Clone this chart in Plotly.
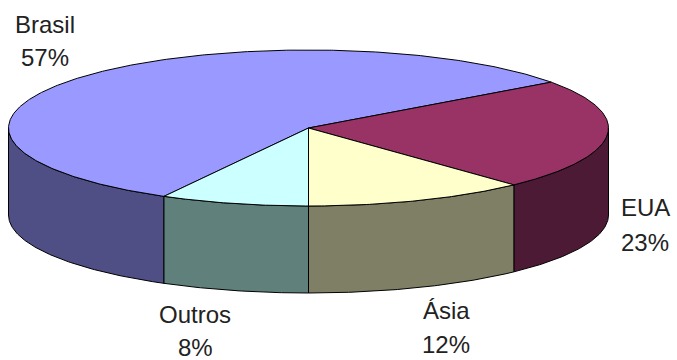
import numpy as np
import plotly.graph_objects as go

# Market share by region
regions = ["Brasil", "EUA", "Ásia", "Outros"]
shares = [57, 23, 12, 8]
top_colors = ["#9999FF", "#993366", "#FFFFCC", "#CCFFFF"]
side_colors = ["#4F4F86", "#4D1A35", "#7F7F66", "#5F807B"]

# Label placement (name line, value line)
label_x = [45, 645, 446, 195]
label_name_y = [24, 207, 310, 314]
label_value_y = [57, 242, 344, 347]

W, H = 677, 360
CX, CY = 308.5, 128.0      # centre of the top face
RX, RY = 300.0, 78.0       # radii of the top ellipse
DEPTH = 87.0               # thickness of the pie
START = 208.8              # angle (deg, clockwise from 12 o'clock) where the first slice begins


def pt(theta_deg, dy=0.0):
    t = np.radians(theta_deg)
    return CX + RX * np.sin(t), CY - RY * np.cos(t) + dy


def arc(a0, a1, dy=0.0, n=None):
    if n is None:
        n = max(int(abs(a1 - a0) * 2), 2)
    th = np.linspace(a0, a1, n)
    xs, ys = pt(th, dy)
    return list(xs), list(ys)


total = float(sum(shares))
bounds = []
a = START
for v in shares:
    b = a + v / total * 360.0
    bounds.append((a, b))
    a = b

fig = go.Figure()
edge = dict(color="black", width=1)

# Outer wall: only the front half (90..270 deg) is visible
for (a0, b0), col in zip(bounds, side_colors):
    for k in (-360, 0, 360):
        lo = max(a0 + k, 90.0)
        hi = min(b0 + k, 270.0)
        if hi - lo <= 0:
            continue
        xt, yt = arc(lo, hi)
        xb, yb = arc(hi, lo, DEPTH)
        xs = xt + xb + [xt[0]]
        ys = yt + yb + [yt[0]]
        fig.add_trace(go.Scatter(x=xs, y=ys, mode="lines", fill="toself",
                                 fillcolor=col, line=edge, hoverinfo="skip",
                                 showlegend=False))

# Top faces
for (a0, b0), col in zip(bounds, top_colors):
    xa, ya = arc(a0, b0)
    xs = [CX] + xa + [CX]
    ys = [CY] + ya + [CY]
    fig.add_trace(go.Scatter(x=xs, y=ys, mode="lines", fill="toself",
                             fillcolor=col, line=edge, hoverinfo="skip",
                             showlegend=False))

# Labels
font = dict(family="Liberation Sans, Arial, sans-serif", size=24, color="#222222")
for name, v, lx, ny, vy in zip(regions, shares, label_x, label_name_y, label_value_y):
    fig.add_annotation(x=lx, y=ny, text=name, showarrow=False, font=font,
                       xanchor="center", yanchor="middle")
    fig.add_annotation(x=lx, y=vy, text=f"{v}%", showarrow=False, font=font,
                       xanchor="center", yanchor="middle")

fig.update_layout(
    width=W, height=H,
    margin=dict(l=0, r=0, t=0, b=0),
    paper_bgcolor="white", plot_bgcolor="white",
    xaxis=dict(range=[0, W], visible=False, fixedrange=True),
    yaxis=dict(range=[H, 0], visible=False, fixedrange=True),
)

fig.write_html("out.html")
